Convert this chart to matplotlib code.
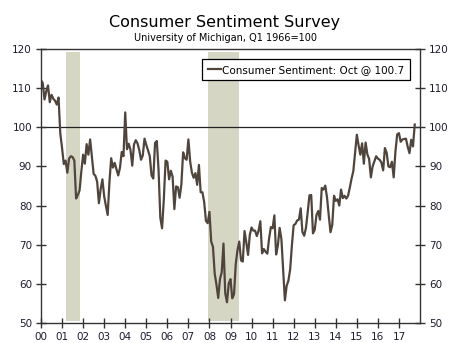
import numpy as np
import pandas as pd
import matplotlib
matplotlib.use("Agg")
import matplotlib.pyplot as plt

# University of Michigan consumer sentiment, monthly, Jan 2000 - Oct 2017
sentiment = [
    112.0, 111.3, 107.1, 109.2, 110.7, 106.4, 108.3, 107.3, 106.8, 105.8, 107.6, 98.4,   # 2000
    94.7, 90.6, 91.5, 88.4, 92.0, 92.6, 92.4, 91.5, 81.8, 82.7, 83.9, 88.8,              # 2001
    93.0, 90.7, 95.7, 93.0, 96.9, 92.4, 88.1, 87.6, 86.1, 80.6, 84.2, 86.7,              # 2002
    82.4, 79.9, 77.6, 86.0, 92.1, 89.7, 90.9, 89.3, 87.7, 89.6, 93.7, 92.6,              # 2003
    103.8, 94.4, 95.8, 94.2, 90.2, 95.6, 96.7, 95.9, 94.2, 91.7, 92.8, 97.1,             # 2004
    95.5, 94.1, 92.6, 87.7, 86.9, 96.0, 96.5, 89.1, 76.9, 74.2, 81.6, 91.5,              # 2005
    91.2, 86.7, 88.9, 87.4, 79.1, 84.9, 84.7, 82.0, 85.4, 93.6, 92.1, 91.7,              # 2006
    96.9, 91.3, 88.4, 87.1, 88.3, 85.3, 90.4, 83.4, 83.4, 80.9, 76.1, 75.5,              # 2007
    78.4, 70.8, 69.5, 62.6, 59.8, 56.4, 61.2, 63.0, 70.3, 57.6, 55.3, 60.1,              # 2008
    61.2, 56.3, 57.3, 65.1, 68.7, 70.8, 66.0, 65.7, 73.5, 70.6, 67.4, 72.5,              # 2009
    74.4, 73.6, 73.6, 72.2, 73.6, 76.0, 67.8, 68.9, 68.2, 67.7, 71.6, 74.5,              # 2010
    74.2, 77.5, 67.5, 69.8, 74.3, 71.5, 63.7, 55.8, 59.5, 60.8, 63.7, 69.9,              # 2011
    75.0, 75.3, 76.2, 76.4, 79.3, 73.2, 72.3, 74.3, 78.3, 82.6, 82.7, 72.9,              # 2012
    73.8, 77.6, 78.6, 76.4, 84.5, 84.1, 85.1, 82.1, 77.5, 73.2, 75.1, 82.5,              # 2013
    81.2, 81.6, 80.0, 84.1, 81.9, 82.5, 81.8, 82.5, 84.6, 86.9, 88.8, 93.6,              # 2014
    98.1, 95.4, 93.0, 95.9, 90.7, 96.1, 93.1, 91.9, 87.2, 90.0, 91.3, 92.6,              # 2015
    92.0, 91.7, 91.0, 89.0, 94.7, 93.5, 90.0, 89.8, 91.2, 87.2, 93.8, 98.2,              # 2016
    98.5, 96.3, 96.9, 97.0, 97.1, 95.0, 93.4, 96.8, 95.1, 100.7,                         # 2017
]

# NBER recessions (start, end) as decimal years
recessions = [(2001.17, 2001.85), (2007.92, 2009.42)]

year_ticks = list(range(2000, 2018))
year_labels = ["%02d" % (y % 100) for y in year_ticks]

dates = pd.date_range("2000-01-01", periods=len(sentiment), freq="MS")
x = dates.year + (dates.month - 1) / 12.0

plt.rcParams["font.family"] = "DejaVu Sans"
fig = plt.figure(figsize=(4.5, 3.43), dpi=100)
ax = fig.add_axes([41 / 450, 1 - 323 / 343, 379 / 450, 274 / 343])

line_col = "#4f453c"
axis_col = "#333333"
label_col = "#1c1c2e"

for start, end in recessions:
    ax.axvspan(start, end, ymin=0.006, ymax=0.99, color="#d6d6c5", lw=0, zorder=0)

ax.axhline(100, color="#222222", lw=0.9, zorder=1)
ax.plot(x, sentiment, color=line_col, lw=1.6, zorder=2,
        label="Consumer Sentiment: Oct @ 100.7")

ax.set_xlim(2000, 2018)
ax.set_ylim(50, 120)
ax.set_xticks(year_ticks)
ax.set_xticklabels(year_labels)
ax.set_yticks(range(50, 121, 10))

ax.tick_params(axis="both", direction="inout", length=7, width=1,
               color=axis_col, labelsize=7.5, labelcolor=label_col)
ax.tick_params(axis="y", right=True, labelright=True, pad=3)
ax.tick_params(axis="x", pad=3)
for s in ax.spines.values():
    s.set_color(axis_col)
    s.set_linewidth(1)

leg = ax.legend(loc="upper right", fontsize=7.5, handlelength=1.3, handletextpad=0.1,
                borderpad=0.55, fancybox=False, framealpha=1,
                bbox_to_anchor=(0.988, 0.983))
leg.get_frame().set_edgecolor("#000000")
leg.get_frame().set_linewidth(0.9)

fig.text(0.5, 1 - 22 / 343, "Consumer Sentiment Survey", ha="center", va="center", fontsize=11.5)
fig.text(0.5, 1 - 38 / 343, "University of Michigan, Q1 1966=100", ha="center", va="center", fontsize=7)

fig.savefig("out.png", dpi=100)
